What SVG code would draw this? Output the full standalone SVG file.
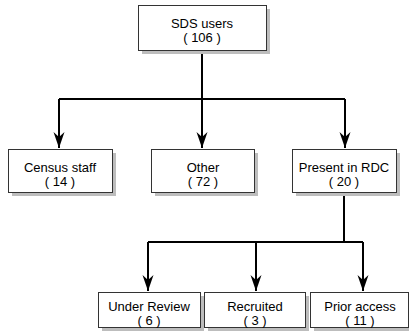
<svg xmlns="http://www.w3.org/2000/svg" width="409" height="336" viewBox="0 0 409 336">
<style>
.sh{fill:#bdbdbd;stroke:none}
.bx{fill:#fff;stroke:#333;stroke-width:1}
.t{font-family:"Liberation Sans",Arial,sans-serif;font-size:13px;fill:#000;text-anchor:middle}
.c{fill:none;stroke:#000;stroke-width:2}
</style>
<defs>
<marker id="ah" markerUnits="userSpaceOnUse" markerWidth="18" markerHeight="14" refX="17" refY="7" orient="auto" viewBox="0 0 18 14">
<path d="M17,7 L1,1.5 L6,7 L1,12.5 Z" fill="#000"/>
</marker>
</defs>
<rect width="409" height="336" fill="#fff"/>
<g id="connectors">
<path class="c" d="M202,50 V99"/>
<path class="c" d="M59,99 H345"/>
<path class="c" d="M59,99 V148" marker-end="url(#ah)"/>
<path class="c" d="M202,99 V148" marker-end="url(#ah)"/>
<path class="c" d="M345,99 V148" marker-end="url(#ah)"/>
<path class="c" d="M344,193 V242"/>
<path class="c" d="M148,242 H363"/>
<path class="c" d="M148,242 V291" marker-end="url(#ah)"/>
<path class="c" d="M256,242 V291" marker-end="url(#ah)"/>
<path class="c" d="M363,242 V291" marker-end="url(#ah)"/>
</g>
<g id="sds">
<rect class="sh" x="142" y="9" width="128" height="45"/>
<rect class="bx" x="138.5" y="5.5" width="128" height="45"/>
<text class="t" x="202" y="28">SDS users</text>
<text class="t" x="202" y="42">( 106 )</text>
</g>
<g id="census">
<rect class="sh" x="12" y="153" width="104" height="43"/>
<rect class="bx" x="8.5" y="149.5" width="104" height="43"/>
<text class="t" x="60" y="172">Census staff</text>
<text class="t" x="60" y="186">( 14 )</text>
</g>
<g id="other">
<rect class="sh" x="155" y="153" width="103" height="43"/>
<rect class="bx" x="151.5" y="149.5" width="103" height="43"/>
<text class="t" x="203" y="172">Other</text>
<text class="t" x="203" y="186">( 72 )</text>
</g>
<g id="rdc">
<rect class="sh" x="296" y="153" width="104" height="43"/>
<rect class="bx" x="292.5" y="149.5" width="104" height="43"/>
<text class="t" x="344" y="172">Present in RDC</text>
<text class="t" x="344" y="186">( 20 )</text>
</g>
<g id="review">
<rect class="sh" x="102" y="296" width="102" height="35"/>
<rect class="bx" x="98.5" y="292.5" width="102" height="35"/>
<text class="t" x="149" y="311">Under Review</text>
<text class="t" x="149" y="325">( 6 )</text>
</g>
<g id="recruited">
<rect class="sh" x="208" y="296" width="101" height="35"/>
<rect class="bx" x="204.5" y="292.5" width="101" height="35"/>
<text class="t" x="255" y="311">Recruited</text>
<text class="t" x="255" y="325">( 3 )</text>
</g>
<g id="prior">
<rect class="sh" x="314" y="296" width="98" height="35"/>
<rect class="bx" x="310.5" y="292.5" width="98" height="35"/>
<text class="t" x="360" y="311">Prior access</text>
<text class="t" x="360" y="325">( 11 )</text>
</g>
</svg>
